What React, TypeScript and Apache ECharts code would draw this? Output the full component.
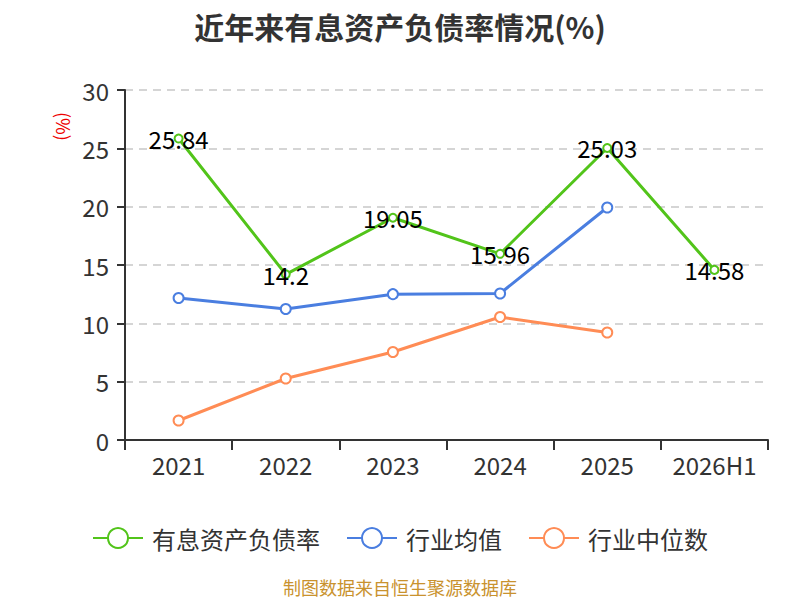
import React, { useEffect, useRef } from "react";
import * as echarts from "echarts";

const categories = ["2021", "2022", "2023", "2024", "2025", "2026H1"];
const debtRatio = [25.84, 14.2, 19.05, 15.96, 25.03, 14.58];
const industryAvg = [12.17, 11.23, 12.5, 12.56, 19.93, null];
const industryMedian = [1.67, 5.27, 7.54, 10.54, 9.21, null];
const yTicks = { min: 0, max: 30, interval: 5 };

export default function App() {
  const ref = useRef<HTMLDivElement>(null);
  useEffect(() => {
    if (!ref.current) return;
    const chart = echarts.init(ref.current, undefined, { renderer: "svg" });
    const font = "'Noto Sans CJK SC', 'Noto Sans', sans-serif";
    const mk = (name: string, data: any[], color: string, label: boolean, size: number) => ({
      name,
      type: "line",
      data,
      symbol: "emptyCircle",
      symbolSize: size,
      lineStyle: { width: 3, color },
      itemStyle: { color, borderWidth: 2 },
      label: label
        ? {
            show: true,
            position: "inside",
            color: "#000",
            fontSize: 24,
            fontFamily: font,
          }
        : { show: false },
    });
    chart.setOption({
      animation: false,
      textStyle: { fontFamily: font },
      title: {
        text: "近年来有息资产负债率情况(%)",
        left: "center",
        top: 6,
        textStyle: { fontSize: 30, fontWeight: "bold", color: "#333", fontFamily: font },
      },
      grid: { left: 125, right: 32, top: 90, bottom: 160 },
      legend: {
        top: 521,
        left: "center",
        itemWidth: 50,
        itemHeight: 25,
        itemGap: 26,
        textStyle: { fontSize: 24, color: "#333", fontFamily: font, padding: [0, 0, 0, 4] },
        data: ["有息资产负债率", "行业均值", "行业中位数"],
      },
      graphic: [
        {
          type: "text",
          x: 73,
          y: 112,
          rotation: -Math.PI / 2,
          style: { text: "(%)", fill: "#e00", fontSize: 18, fontFamily: font },
        },
        {
          type: "text",
          left: "center",
          top: 578,
          style: { text: "制图数据来自恒生聚源数据库", fill: "#c9922e", fontSize: 18, fontFamily: font },
        },
      ],
      xAxis: {
        type: "category",
        data: categories,
        axisLine: { lineStyle: { color: "#333", width: 2 } },
        axisTick: { show: true, length: 10, lineStyle: { color: "#333", width: 2 } },
        axisLabel: { fontSize: 24, color: "#333", margin: 12, interval: 0 },
      },
      yAxis: {
        type: "value",
        min: yTicks.min,
        max: yTicks.max,
        interval: yTicks.interval,
        axisLine: { show: true, lineStyle: { color: "#333", width: 2 } },
        axisTick: { show: true, length: 8, lineStyle: { color: "#333", width: 2 } },
        axisLabel: { fontSize: 24, color: "#333", margin: 16 },
        splitLine: { lineStyle: { type: [8, 6], color: "#c8c8c8", width: 1.5 } },
      },
      series: [
        mk("有息资产负债率", debtRatio, "#52c41a", true, 8),
        mk("行业均值", industryAvg, "#4a7ee0", false, 10),
        mk("行业中位数", industryMedian, "#ff8c55", false, 10),
      ],
    });
    return () => chart.dispose();
  }, []);
  return (
    <div
      ref={ref}
      style={{ position: "absolute", left: 0, top: 0, width: 800, height: 600 }}
    />
  );
}
